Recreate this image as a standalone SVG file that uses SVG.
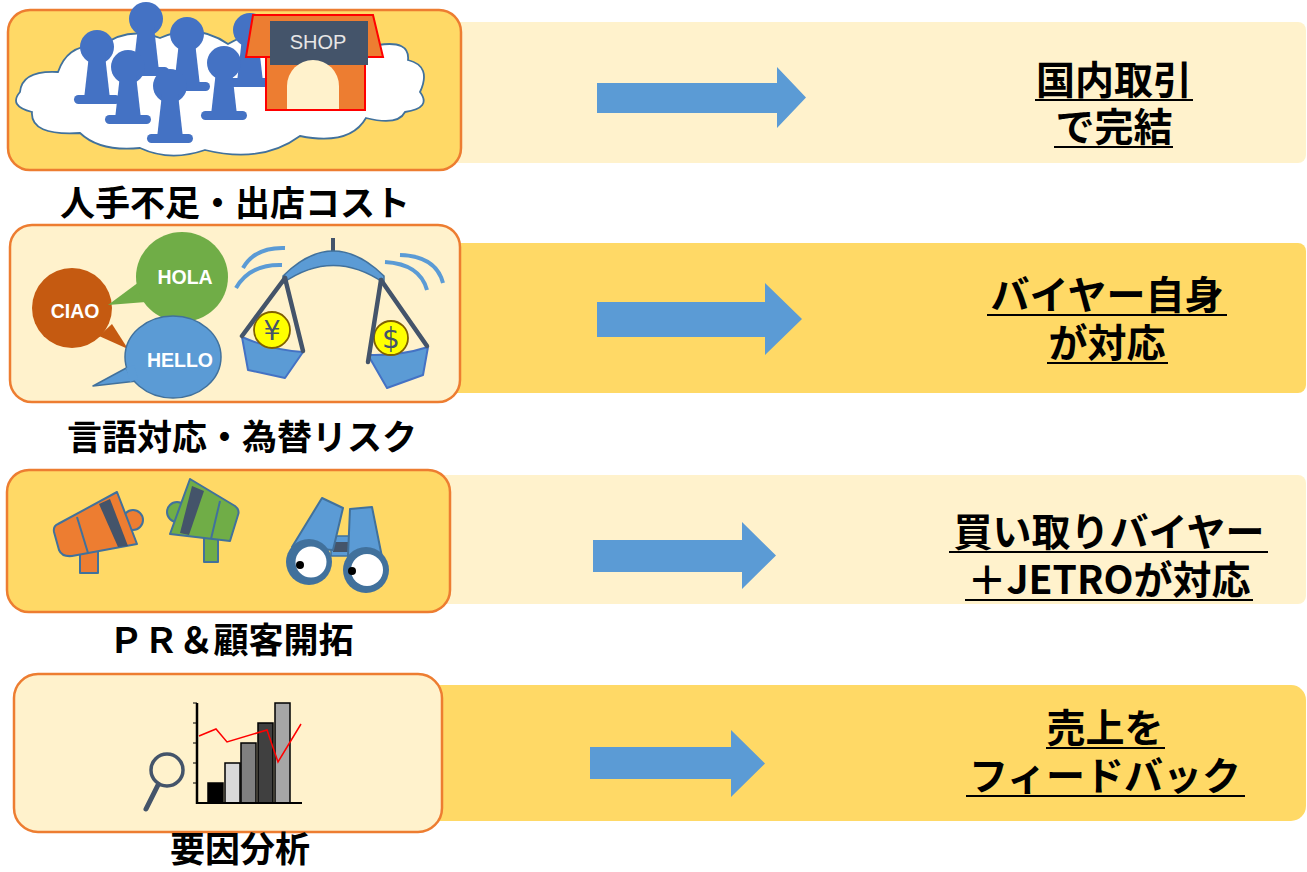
<svg xmlns="http://www.w3.org/2000/svg" width="1307" height="872" viewBox="0 0 1307 872">
  <style>
    .band-light { fill: #FFF2CC; }
    .band-gold { fill: #FFD966; }
    .panel { stroke: #ED7D31; stroke-width: 2.5; }
    .panel-gold { fill: #FFD966; }
    .panel-light { fill: #FFF2CC; }
    .label { font-family: "Noto Sans CJK JP", "Noto Sans", sans-serif; font-weight: 700; font-size: 35px; fill: #000; text-anchor: middle; }
    .result { font-family: "Noto Sans CJK JP", "Noto Sans", sans-serif; font-weight: 700; font-size: 39px; fill: #000; text-anchor: middle; }
    .underline { stroke: #000; stroke-width: 2; }
    .arrow { fill: #5B9BD5; }
    .pawn { fill: #4472C4; }
    .bubble-text { font-family: "Liberation Sans", Arial, sans-serif; font-weight: 700; font-size: 19.5px; fill: #FFFFFF; text-anchor: middle; }
    .dark-line { stroke: #44546A; stroke-width: 4.5; stroke-linecap: round; fill: none; }
    .swing { stroke: #5B9BD5; stroke-width: 4; fill: none; }
    .mega-edge { stroke: #41719C; stroke-width: 2; stroke-linejoin: round; }
    .bar { stroke: #000; stroke-width: 1.5; }
  </style>
  <defs>
    <g id="pawn-shape">
      <circle cx="0" cy="0" r="17"/>
      <path d="M-8,8 L8,8 L13,52 L-13,52 Z"/>
      <rect x="-23" y="48" width="46" height="9" rx="4.5"/>
    </g>
  </defs>

  <rect width="1307" height="872" fill="#FFFFFF"/>

  <!-- result bands with their underlined text -->
  <g id="result-domestic">
    <rect class="band-light" x="400" y="22" width="906" height="141" rx="8"/>
    <text class="result" x="1114" y="94">国内取引</text>
    <line class="underline" x1="1035" y1="100" x2="1193" y2="100"/>
    <text class="result" x="1114" y="141">で完結</text>
    <line class="underline" x1="1054" y1="147" x2="1173" y2="147"/>
  </g>
  <g id="result-buyer">
    <rect class="band-gold" x="400" y="243" width="906" height="150" rx="8"/>
    <text class="result" x="1107" y="309">バイヤー自身</text>
    <line class="underline" x1="987" y1="315" x2="1227" y2="315"/>
    <text class="result" x="1107" y="357">が対応</text>
    <line class="underline" x1="1047" y1="363" x2="1168" y2="363"/>
  </g>
  <g id="result-jetro">
    <rect class="band-light" x="400" y="475" width="906" height="129" rx="8"/>
    <text class="result" x="1109" y="546">買い取りバイヤー</text>
    <line class="underline" x1="949" y1="552" x2="1268" y2="552"/>
    <text class="result" x="1109" y="594">＋JETROが対応</text>
    <line class="underline" x1="965" y1="600" x2="1253" y2="600"/>
  </g>
  <g id="result-feedback">
    <rect class="band-gold" x="400" y="685" width="906" height="136" rx="15"/>
    <text class="result" x="1105" y="742">売上を</text>
    <line class="underline" x1="1046" y1="748" x2="1165" y2="748"/>
    <text class="result" x="1105" y="790">フィードバック</text>
    <line class="underline" x1="966" y1="796" x2="1245" y2="796"/>
  </g>

  <!-- problem 1: staffing and store cost -->
  <g id="problem-staff">
    <rect class="panel panel-gold" x="8" y="10" width="453" height="160" rx="22"/>
    <path d="M20,92 Q22,70 58,72 Q68,42 102,46 Q128,26 160,38 Q196,22 228,44 Q262,24 300,44 Q338,26 378,45 Q410,40 408,60 Q432,66 420,92 Q432,108 405,112 Q398,126 366,118 Q350,146 300,136 Q262,164 205,150 Q170,162 140,148 Q100,152 80,133 Q30,136 32,112 Q8,106 20,92 Z" fill="#FFFFFF" stroke="#41719C" stroke-width="1.8"/>
    <g class="pawn">
      <use href="#pawn-shape" x="146" y="19"/>
      <use href="#pawn-shape" x="250" y="30"/>
      <use href="#pawn-shape" x="187" y="34"/>
      <use href="#pawn-shape" x="97" y="47"/>
      <use href="#pawn-shape" x="224" y="63"/>
      <use href="#pawn-shape" x="128" y="67"/>
      <use href="#pawn-shape" x="170" y="86"/>
    </g>
    <polygon points="253,15 373,15 383,57 246,57" fill="#ED7D31" stroke="#FF0000" stroke-width="2"/>
    <rect x="266" y="57" width="99" height="53" fill="#ED7D31" stroke="#FF0000" stroke-width="2"/>
    <rect x="270" y="21" width="98" height="44" fill="#44546A"/>
    <path d="M287,109 L287,86 A26,26 0 0 1 339,86 L339,109 Z" fill="#FFF2CC"/>
    <text x="318" y="49" font-family="Liberation Sans, Arial, sans-serif" font-size="20" fill="#E7E6E6" text-anchor="middle">SHOP</text>
    <text class="label" x="235" y="216">人手不足・出店コスト</text>
  </g>

  <!-- problem 2: language and exchange risk -->
  <g id="problem-language">
    <rect class="panel panel-light" x="10" y="225" width="450" height="177" rx="22"/>
    <!-- speech bubbles -->
    <polygon points="99,336 112,324 128,349" fill="#C55A11"/>
    <circle cx="72" cy="308" r="40" fill="#C55A11"/>
    <polygon points="139,282 146,302 108,305" fill="#70AD47"/>
    <ellipse cx="182" cy="277" rx="46" ry="45" fill="#70AD47"/>
    <polygon points="93,386 130,366 137,381" fill="#5B9BD5" stroke="#41719C" stroke-width="1.5" stroke-linejoin="round"/>
    <ellipse cx="173" cy="357" rx="48" ry="41" fill="#5B9BD5" stroke="#41719C" stroke-width="1.5"/>
    <polygon points="126,368 134,365 138,379 130,382" fill="#5B9BD5"/>
    <text class="bubble-text" x="75" y="318">CIAO</text>
    <text class="bubble-text" x="185" y="284">HOLA</text>
    <text class="bubble-text" x="180" y="367">HELLO</text>

    <!-- balance scale -->
    <path class="swing" d="M243,268 Q255,247 285,248"/>
    <path class="swing" d="M236,288 Q250,264 282,265"/>
    <path class="swing" d="M400,255 Q436,256 443,283"/>
    <path class="swing" d="M385,262 Q420,264 427,290"/>
    <line x1="333" y1="238" x2="333" y2="262" stroke="#44546A" stroke-width="4"/>
    <path d="M283,276 Q333,226 384,276 L384,283 Q333,248 283,283 Z" fill="#5B9BD5" stroke="#41719C" stroke-width="1.5"/>
    <path d="M242,337 Q272,350 303,352 L285,378 L248,370 Z" fill="#5B9BD5" stroke="#4472C4" stroke-width="2" stroke-linejoin="round"/>
    <path d="M368,355 Q400,356 428,347 L423,375 L387,388 Z" fill="#5B9BD5" stroke="#4472C4" stroke-width="2" stroke-linejoin="round"/>
    <circle cx="272" cy="330" r="18" fill="#FFFF00" stroke="#806000" stroke-width="1.8"/>
    <text x="272" y="340" font-family="DejaVu Sans, sans-serif" font-size="27" fill="#44546A" text-anchor="middle">¥</text>
    <circle cx="391" cy="338" r="17" fill="#FFFF00" stroke="#806000" stroke-width="1.8"/>
    <text x="391" y="348" font-family="DejaVu Sans, sans-serif" font-size="28" fill="#44546A" text-anchor="middle">$</text>
    <line class="dark-line" x1="285" y1="278" x2="242" y2="336"/>
    <line class="dark-line" x1="285" y1="278" x2="303" y2="351"/>
    <line class="dark-line" x1="381" y1="280" x2="368" y2="362"/>
    <line class="dark-line" x1="381" y1="280" x2="427" y2="346"/>
    <text class="label" x="242" y="450">言語対応・為替リスク</text>
  </g>

  <!-- problem 3: PR and customer development -->
  <g id="problem-pr">
    <rect class="panel panel-gold" x="7" y="470" width="443" height="142" rx="22"/>
    <!-- orange megaphone -->
    <rect class="mega-edge" x="80" y="549" width="18" height="24" fill="#ED7D31"/>
    <circle class="mega-edge" cx="133" cy="520" r="10" fill="#ED7D31"/>
    <path class="mega-edge" d="M58,524 L117,492 L137,544 L72,556 Q62,557 59,550 L54,532 Q53,526 58,524 Z" fill="#ED7D31"/>
    <polygon points="99,504 110,499 128,546 118,547" fill="#44546A"/>
    <line x1="77" y1="517" x2="88" y2="553" stroke="#41719C" stroke-width="2"/>
    <!-- green megaphone -->
    <rect class="mega-edge" x="204" y="536" width="14" height="26" fill="#70AD47"/>
    <circle class="mega-edge" cx="177" cy="512" r="10" fill="#70AD47"/>
    <path class="mega-edge" d="M190,479 L235,506 Q240,510 238,515 L230,541 L170,534 Z" fill="#70AD47"/>
    <polygon points="192,486 204,491 189,535 180,533" fill="#44546A"/>
    <line x1="220" y1="501" x2="211" y2="539" stroke="#41719C" stroke-width="2"/>
    <!-- binoculars -->
    <rect x="331" y="536" width="20" height="20" fill="#5B9BD5" stroke="#41719C" stroke-width="1.5"/>
    <rect x="333" y="542" width="16" height="10" fill="#44546A"/>
    <polygon class="mega-edge" points="322,498 343,508 333,550 292,547" fill="#5B9BD5"/>
    <polygon class="mega-edge" points="350,509 372,507 382,557 348,556" fill="#5B9BD5"/>
    <circle cx="309" cy="562" r="23" fill="#41719C"/>
    <circle cx="311" cy="562" r="15.5" fill="#FFFFFF"/>
    <circle cx="300" cy="565" r="4" fill="#000"/>
    <circle cx="366" cy="570" r="23" fill="#41719C"/>
    <circle cx="367" cy="570" r="16" fill="#FFFFFF"/>
    <circle cx="352" cy="571" r="4" fill="#000"/>
    <text class="label" x="231" y="653">ＰＲ＆顧客開拓</text>
  </g>

  <!-- problem 4: factor analysis -->
  <g id="problem-analysis">
    <rect class="panel panel-light" x="14" y="674" width="428" height="158" rx="24"/>
    <circle cx="167" cy="770" r="16" fill="none" stroke="#44546A" stroke-width="3.5"/>
    <line x1="158" y1="785" x2="146" y2="809" stroke="#44546A" stroke-width="5" stroke-linecap="round"/>
    <g stroke="#000" stroke-width="1">
      <line x1="193" y1="703" x2="197" y2="703"/>
      <line x1="193" y1="723" x2="197" y2="723"/>
      <line x1="193" y1="743" x2="197" y2="743"/>
      <line x1="193" y1="763" x2="197" y2="763"/>
      <line x1="193" y1="783" x2="197" y2="783"/>
    </g>
    <rect class="bar" x="208" y="783" width="15" height="20" fill="#000000"/>
    <rect class="bar" x="225" y="763" width="15" height="40" fill="#D9D9D9"/>
    <rect class="bar" x="241" y="743" width="15" height="60" fill="#808080"/>
    <rect class="bar" x="258" y="723" width="15" height="80" fill="#404040"/>
    <rect class="bar" x="275" y="703" width="15" height="100" fill="#A6A6A6"/>
    <polyline points="199,736 216,729 227,742 267,730 278,762 301,724" fill="none" stroke="#FF0000" stroke-width="1.5"/>
    <line x1="197" y1="703" x2="197" y2="804" stroke="#000" stroke-width="2.5"/>
    <line x1="196" y1="803" x2="302" y2="803" stroke="#000" stroke-width="2"/>
    <text class="label" x="240" y="862">要因分析</text>
  </g>

  <!-- connectors from each problem to its result -->
  <g id="connectors">
    <polygon class="arrow" points="597,83 777,83 777,67 806,97.5 777,128 777,113 597,113"/>
    <polygon class="arrow" points="597,302 765,302 765,283 802,319 765,355 765,337 597,337"/>
    <polygon class="arrow" points="593,540 742,540 742,522 776,555.5 742,589 742,572 593,572"/>
    <polygon class="arrow" points="590,747 731,747 731,730 765,763.5 731,797 731,779 590,779"/>
  </g>
</svg>
